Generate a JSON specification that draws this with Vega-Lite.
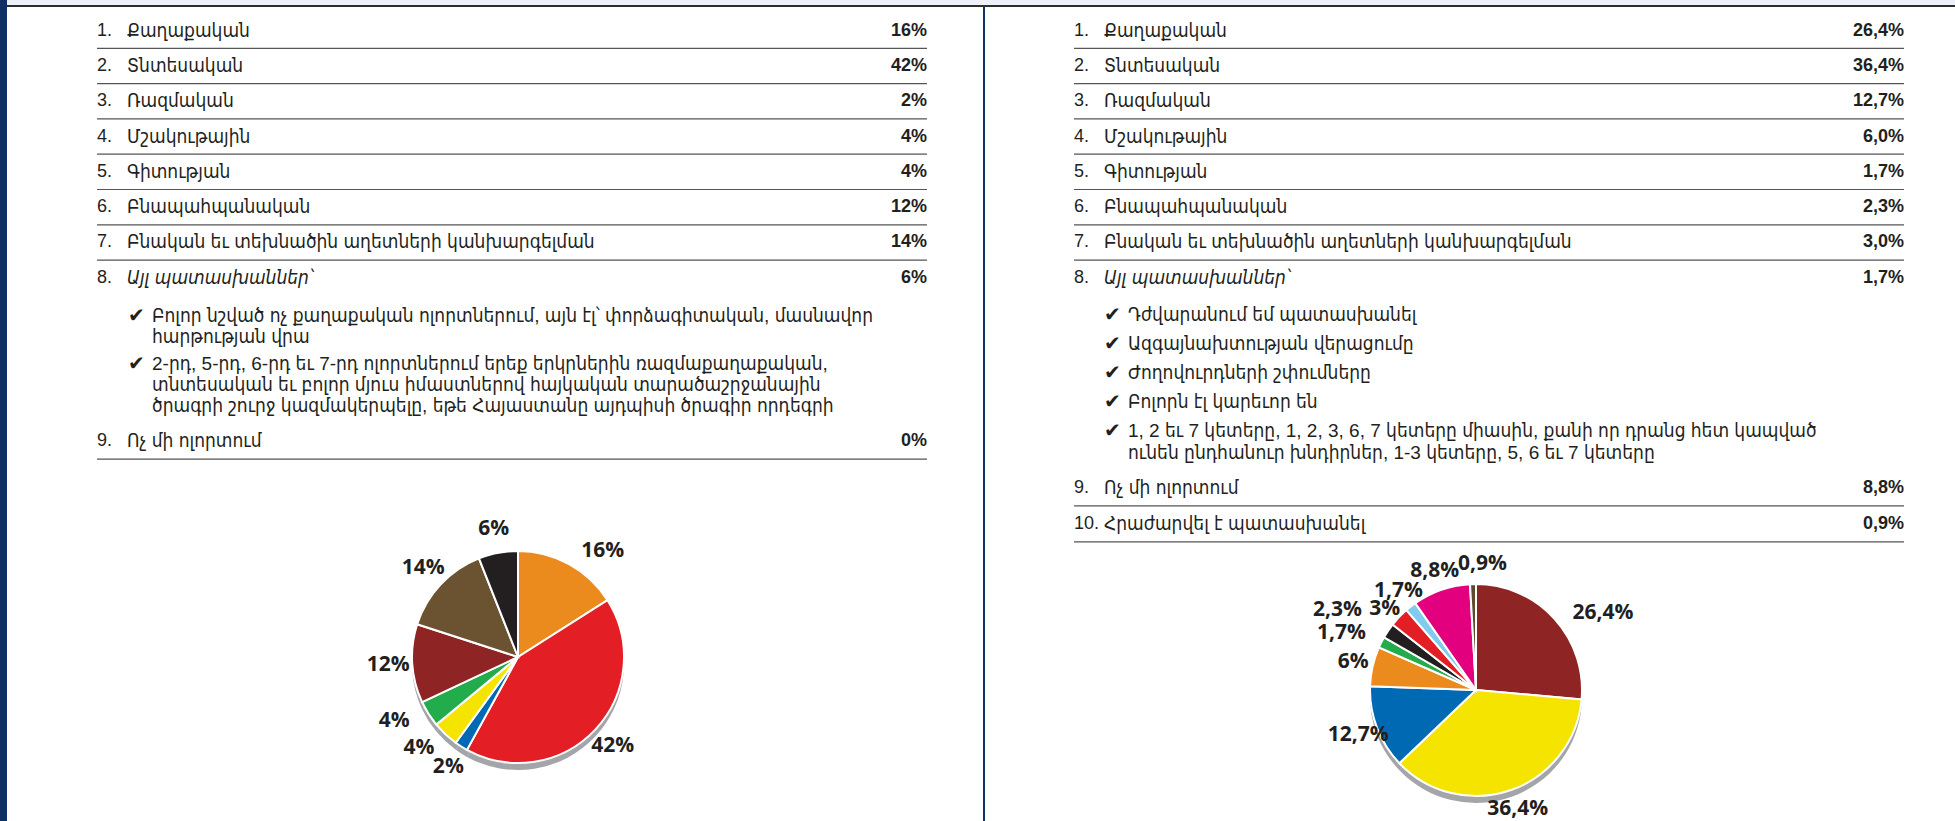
{
  "$schema": "https://vega.github.io/schema/vega-lite/v6.json",
  "padding": 0,
  "background": "white",
  "spacing": 0,
  "config": {"view": {"stroke": null}},
  "resolve": {"scale": {"color": "independent", "theta": "independent"}},
  "datasets": {
    "leftItems": [
      {"n": 1, "num": "1.", "label": "Քաղաքական", "tv": "16%", "pct": 16, "pl": "16%"},
      {"n": 2, "num": "2.", "label": "Տնտեսական", "tv": "42%", "pct": 42, "pl": "42%"},
      {"n": 3, "num": "3.", "label": "Ռազմական", "tv": "2%", "pct": 2, "pl": "2%"},
      {"n": 4, "num": "4.", "label": "Մշակութային", "tv": "4%", "pct": 4, "pl": "4%"},
      {"n": 5, "num": "5.", "label": "Գիտության", "tv": "4%", "pct": 4, "pl": "4%"},
      {"n": 6, "num": "6.", "label": "Բնապահպանական", "tv": "12%", "pct": 12, "pl": "12%"},
      {"n": 7, "num": "7.", "label": "Բնական եւ տեխնածին աղետների կանխարգելման", "tv": "14%", "pct": 14, "pl": "14%"},
      {"n": 8, "num": "8.", "label": "Այլ պատասխաններ՝", "tv": "6%", "pct": 6, "pl": "6%"},
      {"n": 9, "num": "9.", "label": "Ոչ մի ոլորտում", "tv": "0%", "pct": 0, "pl": "0%"}
    ],
    "rightItems": [
      {"n": 1, "num": "1.", "label": "Քաղաքական", "tv": "26,4%", "pct": 26.4, "pl": "26,4%"},
      {"n": 2, "num": "2.", "label": "Տնտեսական", "tv": "36,4%", "pct": 36.4, "pl": "36,4%"},
      {"n": 3, "num": "3.", "label": "Ռազմական", "tv": "12,7%", "pct": 12.7, "pl": "12,7%"},
      {"n": 4, "num": "4.", "label": "Մշակութային", "tv": "6,0%", "pct": 6.0, "pl": "6%"},
      {"n": 5, "num": "5.", "label": "Գիտության", "tv": "1,7%", "pct": 1.7, "pl": "1,7%"},
      {"n": 6, "num": "6.", "label": "Բնապահպանական", "tv": "2,3%", "pct": 2.3, "pl": "2,3%"},
      {"n": 7, "num": "7.", "label": "Բնական եւ տեխնածին աղետների կանխարգելման", "tv": "3,0%", "pct": 3.0, "pl": "3%"},
      {"n": 8, "num": "8.", "label": "Այլ պատասխաններ՝", "tv": "1,7%", "pct": 1.7, "pl": "1,7%"},
      {"n": 9, "num": "9.", "label": "Ոչ մի ոլորտում", "tv": "8,8%", "pct": 8.8, "pl": "8,8%"},
      {"n": 10, "num": "10.", "label": "Հրաժարվել է պատասխանել", "tv": "0,9%", "pct": 0.9, "pl": "0,9%"}
    ],
    "leftBullets": [
      {"b": 1, "t": "Բոլոր նշված ոչ քաղաքական ոլորտներում, այն էլ՝ փորձագիտական, մասնավոր\nհարթության վրա"},
      {"b": 2, "t": "2-րդ, 5-րդ, 6-րդ եւ 7-րդ ոլորտներում երեք երկրներին ռազմաքաղաքական,\nտնտեսական եւ բոլոր մյուս իմաստներով հայկական տարածաշրջանային\nծրագրի շուրջ կազմակերպելը, եթե Հայաստանը այդպիսի ծրագիր որդեգրի"}
    ],
    "rightBullets": [
      {"b": 1, "t": "Դժվարանում եմ պատասխանել"},
      {"b": 2, "t": "Ազգայնախտության վերացումը"},
      {"b": 3, "t": "Ժողովուրդների շփումները"},
      {"b": 4, "t": "Բոլորն էլ կարեւոր են"},
      {"b": 5, "t": "1, 2 եւ 7 կետերը, 1, 2, 3, 6, 7 կետերը միասին, քանի որ դրանց հետ կապված\nունեն ընդհանուր խնդիրներ, 1-3 կետերը, 5, 6 եւ 7 կետերը"}
    ]
  },
  "hconcat": [
    {
      "width": 7, "height": 821,
      "view": {"fill": "#0e3163", "stroke": null},
      "data": {"values": []},
      "mark": {"type": "point", "opacity": 0},
      "encoding": {}
    },
    {
      "spacing": 0,
      "resolve": {"scale": {"color": "independent", "theta": "independent"}},
      "vconcat": [
        {
          "width": 1948, "height": 5,
          "view": {"fill": "#edf1f7", "stroke": null},
          "data": {"values": []},
          "mark": {"type": "point", "opacity": 0},
          "encoding": {}
        },
        {
          "width": 1948, "height": 2,
          "view": {"fill": "#2e2e2e", "stroke": null},
          "data": {"values": []},
          "mark": {"type": "point", "opacity": 0},
          "encoding": {}
        },
        {
          "spacing": 0,
          "resolve": {"scale": {"color": "independent", "theta": "independent"}},
          "hconcat": [
            {
              "width": 89, "height": 1,
              "data": {"values": []},
              "mark": {"type": "point", "opacity": 0},
              "encoding": {}
            },
            {
              "spacing": 52,
              "vconcat": [
                {
                  "spacing": 0,
                  "bounds": "flush",
                  "vconcat": [
                    {
                      "data": {"name": "leftItems"},
                      "transform": [{"filter": "datum.n <= 8"}],
                      "width": 830,
                      "height": {"step": 35.3},
                      "encoding": {"y": {"field": "n", "type": "ordinal", "axis": null, "scale": {"type": "band", "paddingInner": 0, "paddingOuter": 0.085, "align": 1}}},
                      "layer": [
                        {"mark": {"type": "text", "align": "left", "baseline": "middle", "font": "Liberation Sans", "fontSize": 18, "fill": "#231f20"}, "encoding": {"x": {"value": 0}, "text": {"field": "num"}}},
                        {"transform": [{"filter": "datum.n != 8"}], "mark": {"type": "text", "align": "left", "baseline": "middle", "font": "Liberation Sans, DejaVu Sans Condensed, DejaVu Sans", "fontSize": 19, "fill": "#231f20"}, "encoding": {"x": {"value": 30}, "text": {"field": "label"}}},
                        {"transform": [{"filter": "datum.n == 8"}], "mark": {"type": "text", "align": "left", "baseline": "middle", "font": "Liberation Sans, DejaVu Sans Condensed, DejaVu Sans", "fontStyle": "italic", "fontSize": 19, "fill": "#231f20"}, "encoding": {"x": {"value": 30}, "text": {"field": "label"}}},
                        {"mark": {"type": "text", "align": "right", "baseline": "middle", "font": "Liberation Sans", "fontWeight": "bold", "fontSize": 18, "fill": "#231f20"}, "encoding": {"x": {"value": 830}, "text": {"field": "tv"}}},
                        {"transform": [{"filter": "datum.n <= 7"}], "mark": {"type": "rule", "stroke": "#555555", "strokeWidth": 1.2}, "encoding": {"y": {"field": "n", "type": "ordinal", "bandPosition": 1}}}
                      ]
                    },
                    {
                      "data": {"name": "leftBullets"},
                      "width": 830,
                      "height": {"step": 48},
                      "encoding": {"y": {"field": "b", "type": "ordinal", "axis": null, "bandPosition": 0, "scale": {"type": "band", "paddingInner": 0, "paddingOuter": 0.0635, "align": 1}}},
                      "layer": [
                        {"mark": {"type": "text", "text": "✔", "align": "left", "baseline": "top", "dy": 4, "font": "DejaVu Sans", "fontSize": 20, "fill": "#231f20"}, "encoding": {"x": {"value": 31}}},
                        {"mark": {"type": "text", "align": "left", "baseline": "top", "dy": 5, "lineBreak": "\n", "lineHeight": 21, "font": "Liberation Sans, DejaVu Sans Condensed, DejaVu Sans", "fontSize": 19, "fill": "#231f20"}, "encoding": {"x": {"value": 55}, "text": {"field": "t"}}}
                      ]
                    },
                    {
                      "data": {"name": "leftItems"},
                      "transform": [{"filter": "datum.n >= 9"}],
                      "width": 830,
                      "height": {"step": 35.3},
                      "encoding": {"y": {"field": "n", "type": "ordinal", "axis": null, "scale": {"type": "band", "paddingInner": 0, "paddingOuter": 0.351, "align": 1}}},
                      "layer": [
                        {"mark": {"type": "text", "align": "left", "baseline": "middle", "font": "Liberation Sans", "fontSize": 18, "fill": "#231f20"}, "encoding": {"x": {"value": 0}, "text": {"field": "num"}}},
                        {"mark": {"type": "text", "align": "left", "baseline": "middle", "font": "Liberation Sans, DejaVu Sans Condensed, DejaVu Sans", "fontSize": 19, "fill": "#231f20"}, "encoding": {"x": {"value": 30}, "text": {"field": "label"}}},
                        {"mark": {"type": "text", "align": "right", "baseline": "middle", "font": "Liberation Sans", "fontWeight": "bold", "fontSize": 18, "fill": "#231f20"}, "encoding": {"x": {"value": 830}, "text": {"field": "tv"}}},
                        {"mark": {"type": "rule", "stroke": "#555555", "strokeWidth": 1.2}, "encoding": {"y": {"field": "n", "type": "ordinal", "bandPosition": 1}}}
                      ]
                    }
                  ]
                },
                {
                  "data": {"name": "leftItems"},
                  "transform": [{"filter": "datum.pct > 0"}],
                  "width": 842,
                  "height": 290,
                  "encoding": {
                    "theta": {"field": "pct", "type": "quantitative", "stack": true},
                    "order": {"field": "n", "type": "quantitative"}
                  },
                  "layer": [
                    {"mark": {"type": "arc", "radius": 106, "fill": "#a3a5a8", "yOffset": 7}},
                    {"mark": {"type": "arc", "radius": 106, "stroke": "white", "strokeWidth": 2},
                     "encoding": {"color": {"field": "n", "type": "nominal", "legend": null, "scale": {"domain": [1, 2, 3, 4, 5, 6, 7, 8], "range": ["#EB8B1E", "#E31E24", "#0069B4", "#F5E400", "#22AC4B", "#8E2423", "#6B5331", "#231F20"]}}}},
                    {"mark": {"type": "text", "radius": 130, "baseline": "middle", "font": "Open Sans", "fontWeight": "bold", "fontSize": 21, "fill": "#231f20"}, "encoding": {"text": {"condition": {"test": "datum.n != 1 && datum.n != 4 && datum.n != 5", "field": "pl"}, "value": ""}}},
                    {"mark": {"type": "text", "radius": 130, "dx": 22, "dy": 8, "baseline": "middle", "font": "Open Sans", "fontWeight": "bold", "fontSize": 21, "fill": "#231f20"}, "encoding": {"text": {"condition": {"test": "datum.n == 1", "field": "pl"}, "value": ""}}},
                    {"mark": {"type": "text", "radius": 130, "dx": -10, "dy": -4, "baseline": "middle", "font": "Open Sans", "fontWeight": "bold", "fontSize": 21, "fill": "#231f20"}, "encoding": {"text": {"condition": {"test": "datum.n == 4", "field": "pl"}, "value": ""}}},
                    {"mark": {"type": "text", "radius": 130, "dx": -14, "dy": -6, "baseline": "middle", "font": "Open Sans", "fontWeight": "bold", "fontSize": 21, "fill": "#231f20"}, "encoding": {"text": {"condition": {"test": "datum.n == 5", "field": "pl"}, "value": ""}}}
                  ]
                }
              ]
            },
            {
              "width": 44, "height": 1,
              "data": {"values": []},
              "mark": {"type": "point", "opacity": 0},
              "encoding": {}
            },
            {
              "width": 2, "height": 814,
              "view": {"fill": "#0e3163", "stroke": null},
              "data": {"values": []},
              "mark": {"type": "point", "opacity": 0},
              "encoding": {}
            },
            {
              "width": 88, "height": 1,
              "data": {"values": []},
              "mark": {"type": "point", "opacity": 0},
              "encoding": {}
            },
            {
              "spacing": 0,
              "vconcat": [
                {
                  "spacing": 0,
                  "bounds": "flush",
                  "vconcat": [
                    {
                      "data": {"name": "rightItems"},
                      "transform": [{"filter": "datum.n <= 8"}],
                      "width": 830,
                      "height": {"step": 35.3},
                      "encoding": {"y": {"field": "n", "type": "ordinal", "axis": null, "scale": {"type": "band", "paddingInner": 0, "paddingOuter": 0.085, "align": 1}}},
                      "layer": [
                        {"mark": {"type": "text", "align": "left", "baseline": "middle", "font": "Liberation Sans", "fontSize": 18, "fill": "#231f20"}, "encoding": {"x": {"value": 0}, "text": {"field": "num"}}},
                        {"transform": [{"filter": "datum.n != 8"}], "mark": {"type": "text", "align": "left", "baseline": "middle", "font": "Liberation Sans, DejaVu Sans Condensed, DejaVu Sans", "fontSize": 19, "fill": "#231f20"}, "encoding": {"x": {"value": 30}, "text": {"field": "label"}}},
                        {"transform": [{"filter": "datum.n == 8"}], "mark": {"type": "text", "align": "left", "baseline": "middle", "font": "Liberation Sans, DejaVu Sans Condensed, DejaVu Sans", "fontStyle": "italic", "fontSize": 19, "fill": "#231f20"}, "encoding": {"x": {"value": 30}, "text": {"field": "label"}}},
                        {"mark": {"type": "text", "align": "right", "baseline": "middle", "font": "Liberation Sans", "fontWeight": "bold", "fontSize": 18, "fill": "#231f20"}, "encoding": {"x": {"value": 830}, "text": {"field": "tv"}}},
                        {"transform": [{"filter": "datum.n <= 7"}], "mark": {"type": "rule", "stroke": "#555555", "strokeWidth": 1.2}, "encoding": {"y": {"field": "n", "type": "ordinal", "bandPosition": 1}}}
                      ]
                    },
                    {
                      "data": {"name": "rightBullets"},
                      "width": 830,
                      "height": {"step": 29},
                      "encoding": {"y": {"field": "b", "type": "ordinal", "axis": null, "bandPosition": 0, "scale": {"type": "band", "paddingInner": 0, "paddingOuter": 0.088, "align": 1}}},
                      "layer": [
                        {"mark": {"type": "text", "text": "✔", "align": "left", "baseline": "top", "dy": 4, "font": "DejaVu Sans", "fontSize": 20, "fill": "#231f20"}, "encoding": {"x": {"value": 30}}},
                        {"mark": {"type": "text", "align": "left", "baseline": "top", "dy": 5, "lineBreak": "\n", "lineHeight": 22, "font": "Liberation Sans, DejaVu Sans Condensed, DejaVu Sans", "fontSize": 19, "fill": "#231f20"}, "encoding": {"x": {"value": 54}, "text": {"field": "t"}}}
                      ]
                    },
                    {
                      "data": {"name": "rightItems"},
                      "transform": [{"filter": "datum.n >= 9"}],
                      "width": 830,
                      "height": {"step": 36},
                      "encoding": {"y": {"field": "n", "type": "ordinal", "axis": null, "scale": {"type": "band", "paddingInner": 0, "paddingOuter": 0.319, "align": 1}}},
                      "layer": [
                        {"mark": {"type": "text", "align": "left", "baseline": "middle", "font": "Liberation Sans", "fontSize": 18, "fill": "#231f20"}, "encoding": {"x": {"value": 0}, "text": {"field": "num"}}},
                        {"mark": {"type": "text", "align": "left", "baseline": "middle", "font": "Liberation Sans, DejaVu Sans Condensed, DejaVu Sans", "fontSize": 19, "fill": "#231f20"}, "encoding": {"x": {"value": 30}, "text": {"field": "label"}}},
                        {"mark": {"type": "text", "align": "right", "baseline": "middle", "font": "Liberation Sans", "fontWeight": "bold", "fontSize": 18, "fill": "#231f20"}, "encoding": {"x": {"value": 830}, "text": {"field": "tv"}}},
                        {"mark": {"type": "rule", "stroke": "#555555", "strokeWidth": 1.2}, "encoding": {"y": {"field": "n", "type": "ordinal", "bandPosition": 1}}}
                      ]
                    }
                  ]
                },
                {
                  "data": {"name": "rightItems"},
                  "transform": [{"filter": "datum.pct > 0"}],
                  "width": 804,
                  "height": 278,
                  "encoding": {
                    "theta": {"field": "pct", "type": "quantitative", "stack": true},
                    "order": {"field": "n", "type": "quantitative"}
                  },
                  "layer": [
                    {"mark": {"type": "arc", "radius": 106, "fill": "#a3a5a8", "yOffset": 7}},
                    {"mark": {"type": "arc", "radius": 106, "stroke": "white", "strokeWidth": 2},
                     "encoding": {"color": {"field": "n", "type": "nominal", "legend": null, "scale": {"domain": [1, 2, 3, 4, 5, 6, 7, 8, 9, 10], "range": ["#8E2423", "#F5E400", "#0069B4", "#EB8B1E", "#22AC4B", "#231F20", "#E31E24", "#7FCCEF", "#E2007F", "#5E4A2C"]}}}},
                    {"mark": {"type": "text", "radius": 126, "baseline": "middle", "font": "Open Sans", "fontWeight": "bold", "fontSize": 21, "fill": "#231f20"}, "encoding": {"text": {"condition": {"test": "datum.n != 1 && datum.n != 5 && datum.n != 6 && datum.n != 7 && datum.n != 10", "field": "pl"}, "value": ""}}},
                    {"mark": {"type": "text", "radius": 126, "dx": 34, "dy": 8, "baseline": "middle", "font": "Open Sans", "fontWeight": "bold", "fontSize": 21, "fill": "#231f20"}, "encoding": {"text": {"condition": {"test": "datum.n == 1", "field": "pl"}, "value": ""}}},
                    {"mark": {"type": "text", "radius": 126, "dy": 6, "baseline": "middle", "font": "Open Sans", "fontWeight": "bold", "fontSize": 21, "fill": "#231f20"}, "encoding": {"text": {"condition": {"test": "datum.n == 7", "field": "pl"}, "value": ""}}},
                    {"mark": {"type": "text", "radius": 126, "dx": -34, "dy": -10, "baseline": "middle", "font": "Open Sans", "fontWeight": "bold", "fontSize": 21, "fill": "#231f20"}, "encoding": {"text": {"condition": {"test": "datum.n == 6", "field": "pl"}, "value": ""}}},
                    {"mark": {"type": "text", "radius": 126, "dx": -22, "baseline": "middle", "font": "Open Sans", "fontWeight": "bold", "fontSize": 21, "fill": "#231f20"}, "encoding": {"text": {"condition": {"test": "datum.n == 5", "field": "pl"}, "value": ""}}},
                    {"mark": {"type": "text", "radius": 126, "dx": 10, "baseline": "middle", "font": "Open Sans", "fontWeight": "bold", "fontSize": 21, "fill": "#231f20"}, "encoding": {"text": {"condition": {"test": "datum.n == 10", "field": "pl"}, "value": ""}}}
                  ]
                }
              ]
            }
          ]
        }
      ]
    }
  ]
}
